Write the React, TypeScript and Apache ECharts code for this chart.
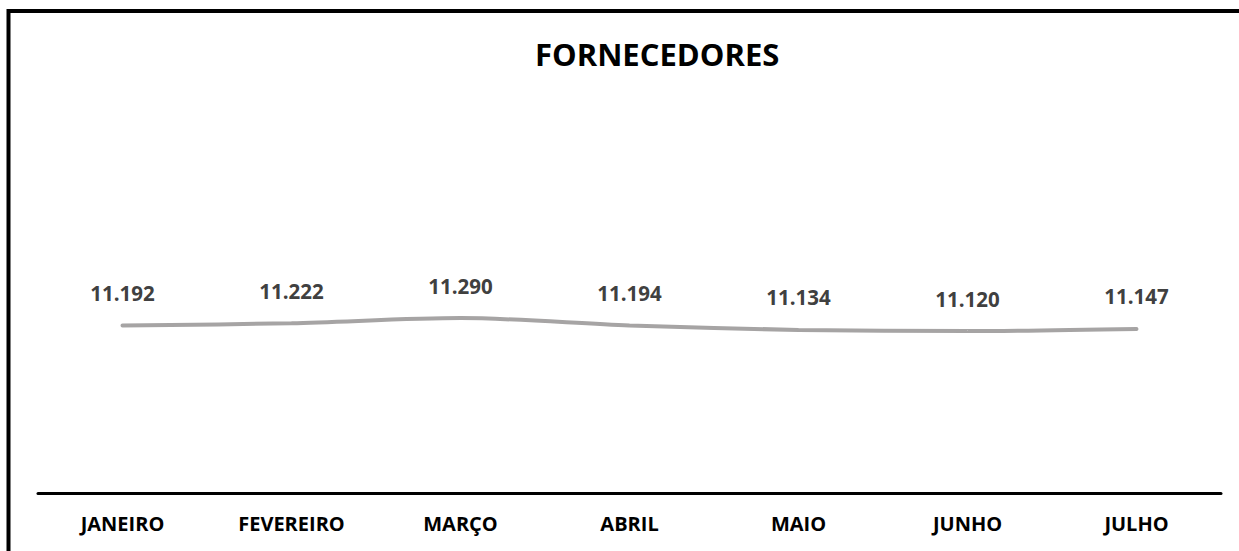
import React, { useEffect, useRef } from "react";
import * as echarts from "echarts";

const months = ["JANEIRO", "FEVEREIRO", "MARÇO", "ABRIL", "MAIO", "JUNHO", "JULHO"];
const fornecedores = [11192, 11222, 11290, 11194, 11134, 11120, 11147];
const chartTitle = "FORNECEDORES";

const fmt = (v: number) => String(Math.round(v)).replace(/\B(?=(\d{3})+(?!\d))/g, ".");

export default function App() {
  const ref = useRef<HTMLDivElement>(null);
  useEffect(() => {
    if (!ref.current) return;
    const chart = echarts.init(ref.current, null, { renderer: "svg" });
    chart.setOption({
      animation: false,
      backgroundColor: "#ffffff",
      title: {
        text: chartTitle,
        left: 530,
        top: 33,
        textStyle: { fontFamily: "Open Sans", fontWeight: "bold", fontSize: 31, color: "#000000" },
      },
      graphic: [
        {
          type: "rect",
          shape: { x: 8.5, y: 11, width: 1400, height: 700 },
          style: { fill: "none", stroke: "#000000", lineWidth: 4 },
          silent: true,
        },
      ],
      grid: { left: 38, right: 18, top: 111, bottom: 58 },
      xAxis: {
        type: "category",
        data: months,
        boundaryGap: true,
        axisLine: { show: true, lineStyle: { color: "#000000", width: 3 } },
        axisTick: { show: false },
        axisLabel: {
          color: "#000000",
          fontFamily: "Open Sans",
          fontWeight: "bold",
          fontSize: 20,
          margin: 20,
          interval: 0,
        },
      },
      yAxis: {
        type: "value",
        min: 9000,
        max: 14000,
        show: false,
        splitLine: { show: false },
      },
      series: [
        {
          type: "line",
          data: fornecedores,
          smooth: 0.3,
          symbol: "circle",
          symbolSize: 2,
          showSymbol: true,
          itemStyle: { color: "rgba(166,164,164,0)", borderWidth: 0 },
          lineStyle: { color: "#a6a4a4", width: 4, cap: "round" },
          label: {
            show: true,
            position: "top",
            distance: 21,
            color: "#404040",
            fontFamily: "Open Sans",
            fontWeight: "bold",
            fontSize: 20.5,
            formatter: (p: any) => fmt(p.value),
          },
        },
      ],
    });
    return () => chart.dispose();
  }, []);
  return (
    <div
      ref={ref}
      style={{ position: "absolute", left: 0, top: 0, width: 1239, height: 551 }}
    />
  );
}
